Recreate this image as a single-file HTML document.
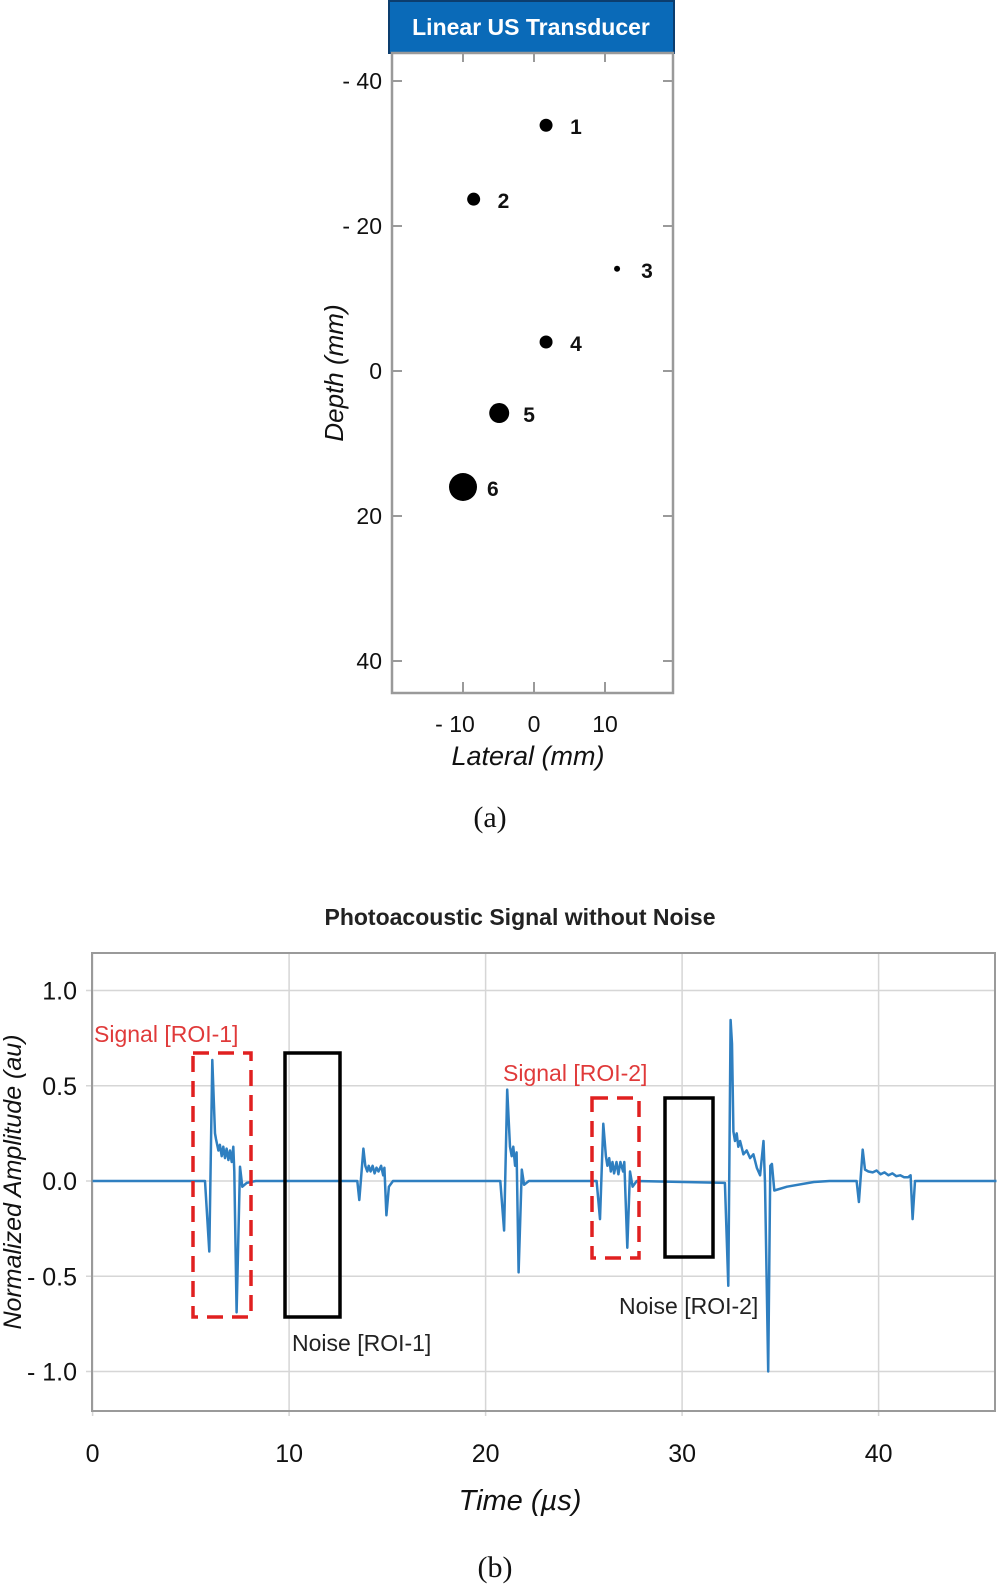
<!DOCTYPE html>
<html><head><meta charset="utf-8">
<style>
html,body{margin:0;padding:0;background:#fff;}
svg{display:block;font-family:"Liberation Sans","DejaVu Sans",sans-serif;}
</style></head>
<body>
<svg id="fig" width="1001" height="1586" viewBox="0 0 1001 1586">
<!-- (a) -->
<g id="chartA">
  <rect x="389" y="1" width="285" height="52" fill="#0a6ab8" stroke="#0c3d6e" stroke-width="2"/>
  <text x="531" y="35" text-anchor="middle" fill="#fff" font-weight="bold" font-size="23">Linear US Transducer</text>
  <rect x="392" y="53" width="281" height="640" fill="none" stroke="#9a9a9a" stroke-width="2.5"/>
  <g id="aTicks"></g>
  <g id="aPoints"></g>
  <text transform="translate(343,373) rotate(-90)" text-anchor="middle" font-style="italic" font-size="26" fill="#111">Depth (mm)</text>
  <text x="528" y="765" text-anchor="middle" font-style="italic" font-size="27" fill="#111">Lateral (mm)</text>
  <text x="490" y="827" text-anchor="middle" font-family="Liberation Serif,serif" font-size="30" fill="#111">(a)</text>
</g>
<!-- (b) -->
<g id="chartB">
  <text x="520" y="925" text-anchor="middle" font-weight="bold" font-size="23" fill="#222">Photoacoustic Signal without Noise</text>
  <g id="bGrid"></g>
  <rect x="92" y="953" width="903" height="458" fill="none" stroke="#9a9a9a" stroke-width="2"/>
  <path id="sig" fill="none" stroke="#2f7fc0" stroke-width="2.5" stroke-linejoin="round"/>
  <rect x="193" y="1053" width="58" height="264" fill="none" stroke="#e02020" stroke-width="3.5" stroke-dasharray="16,9"/>
  <rect x="285" y="1053" width="55" height="264" fill="none" stroke="#000" stroke-width="3.5"/>
  <rect x="592" y="1098" width="47" height="160" fill="none" stroke="#e02020" stroke-width="3.5" stroke-dasharray="16,9"/>
  <rect x="665" y="1098" width="48" height="159" fill="none" stroke="#000" stroke-width="3.5"/>
  <text x="94" y="1042" font-size="23" fill="#e03a3a">Signal [ROI-1]</text>
  <text x="503" y="1081" font-size="23" fill="#e03a3a">Signal [ROI-2]</text>
  <text x="292" y="1351" font-size="23" fill="#222">Noise [ROI-1]</text>
  <text x="619" y="1314" font-size="23" fill="#222">Noise [ROI-2]</text>
  <text transform="translate(21,1182) rotate(-90)" text-anchor="middle" font-style="italic" font-size="25" fill="#111">Normalized Amplitude (au)</text>
  <text x="520" y="1510" text-anchor="middle" font-style="italic" font-size="29" fill="#111">Time (µs)</text>
  <text x="495" y="1577" text-anchor="middle" font-family="Liberation Serif,serif" font-size="30" fill="#111">(b)</text>
</g>
</svg>
<script>
// ---- chart (a) data ----
const aYTicks = [-40, -20, 0, 20, 40];
const aXTicks = [-10, 0, 10];
const aXTickLabels = ["- 10", "0", "10"];
const aYTickLabels = ["- 40", "- 20", "0", "20", "40"];
const targetIds = ["1", "2", "3", "4", "5", "6"];
const targetLateral = [1.7, -8.5, 11.7, 1.7, -4.9, -10.0];
const targetDepth = [-33.9, -23.7, -14.1, -4.0, 5.8, 16.0];
const targetRadius = [6.5, 6.5, 3, 6.5, 10, 14];

// ---- chart (b) data ----
const bXTicks = [0, 10, 20, 30, 40];
const bYTicks = [1.0, 0.5, 0.0, -0.5, -1.0];
const bYTickLabels = ["1.0", "0.5", "0.0", "- 0.5", "- 1.0"];
const sigTime = [0,5.72,5.94,6.09,6.23,6.28,6.40,6.48,6.57,6.65,6.74,6.82,6.91,6.99,7.08,7.16,7.21,7.33,7.50,7.62,7.84,8.3,
 13.47,13.57,13.78,13.88,13.98,14.05,14.15,14.25,14.35,14.45,14.55,14.68,14.79,14.85,14.95,15.08,15.29,
 20.75,20.94,21.1,21.24,21.33,21.41,21.5,21.58,21.68,21.84,21.96,22.2,
 25.65,25.82,25.99,26.12,26.2,26.29,26.37,26.46,26.54,26.66,26.76,26.86,27.0,27.06,27.21,27.35,27.48,27.69,
 32.18,32.35,32.47,32.54,32.61,32.69,32.78,32.86,32.95,33.12,33.29,33.46,33.63,33.8,33.97,34.14,34.22,34.38,34.49,34.57,34.69,35.34,36.7,37.5,
 38.88,39.0,39.19,39.31,39.48,39.7,39.9,40.1,40.3,40.5,40.7,40.9,41.1,41.3,41.5,41.63,41.73,41.85,42.0,46];
const sigValue = [0,0,-0.37,0.635,0.25,0.22,0.16,0.19,0.13,0.18,0.12,0.17,0.11,0.16,0.10,0.18,0.05,-0.69,0.075,-0.03,-0.01,0,
 0,-0.10,0.17,0.08,0.05,0.08,0.05,0.08,0.04,0.07,0.05,0.08,0.03,0.07,-0.18,-0.03,0,
 0,-0.26,0.48,0.18,0.13,0.18,0.08,0.15,-0.48,0.06,-0.02,0,
 0,-0.2,0.30,0.13,0.08,0.12,0.05,0.10,0.04,0.10,0.035,0.10,0.05,0.10,-0.35,0.05,-0.03,0,
 -0.01,-0.55,0.845,0.72,0.26,0.21,0.25,0.18,0.21,0.14,0.16,0.12,0.14,0.07,0.03,0.21,-0.01,-1.0,0.08,0.09,-0.05,-0.03,-0.005,0,
 0,-0.11,0.165,0.06,0.05,0.045,0.055,0.035,0.045,0.03,0.04,0.025,0.03,0.02,0.02,0.03,-0.2,0,0,0];

const NS = "http://www.w3.org/2000/svg";
function mk(tag, attrs, parent, txt){const e=document.createElementNS(NS,tag);for(const k in attrs)e.setAttribute(k,attrs[k]);if(txt!==undefined)e.textContent=txt;parent.appendChild(e);return e;}

// axes (a)
const ax = v => 534 + v*7.1;
const ay = v => 371 + v*7.25;
const aT = document.getElementById('aTicks');
aYTicks.forEach((v,i)=>{
  let l=mk('line',{x1:392,x2:402,y1:ay(v),y2:ay(v),stroke:'#9a9a9a','stroke-width':2},aT);
  
  
  let r=mk('line',{x1:663,x2:673,y1:ay(v),y2:ay(v),stroke:'#9a9a9a','stroke-width':2},aT);
  
  
  let t=mk('text',{x:382,y:ay(v)+8,'text-anchor':'end','font-size':23,fill:'#111'},aT,aYTickLabels[i]);
  
  
});
aXTicks.forEach((v,i)=>{
  let b=mk('line',{x1:ax(v),x2:ax(v),y1:682,y2:693,stroke:'#9a9a9a','stroke-width':2},aT);
  
  
  let tp=mk('line',{x1:ax(v),x2:ax(v),y1:53,y2:62,stroke:'#9a9a9a','stroke-width':2},aT);
  
  
  let t=mk('text',{x:ax(v)-(i===0?8:0),y:732,'text-anchor':'middle','font-size':23,fill:'#111'},aT,aXTickLabels[i]);
  
  
});
const aP = document.getElementById('aPoints');
targetIds.forEach((id,i)=>{
  let c=mk('circle',{cx:ax(targetLateral[i]),cy:ay(targetDepth[i]),r:targetRadius[i],fill:'#000'},aP);
  
  
  let t=mk('text',{x:ax(targetLateral[i])+24,y:ay(targetDepth[i])+9,'font-size':21,'font-weight':'bold',fill:'#111'},aP,id);
  
  
});

// axes (b)
const bx = t => 92.6 + t*19.65;
const by = v => 1181 - v*190.5;
const bG = document.getElementById('bGrid');
bYTicks.forEach((v,i)=>{
  let g=mk('line',{x1:86,x2:995,y1:by(v),y2:by(v),stroke:'#d6d6d6','stroke-width':1.5},bG);
  
  
  let t=mk('text',{x:77,y:by(v)+9,'text-anchor':'end','font-size':25,fill:'#111'},bG,bYTickLabels[i]);
  
  
});
bXTicks.forEach(v=>{
  let g=mk('line',{x1:bx(v),x2:bx(v),y1:953,y2:1416,stroke:'#d6d6d6','stroke-width':1.5},bG);
  
  
  let t=mk('text',{x:bx(v),y:1462,'text-anchor':'middle','font-size':25,fill:'#111'},bG,String(v));
  
  
});
let d='';
sigTime.forEach((t,i)=>{d+=(i?'L':'M')+bx(t).toFixed(1)+','+by(sigValue[i]).toFixed(1);});
document.getElementById('sig').setAttribute('d',d);
</script>
</body></html>
